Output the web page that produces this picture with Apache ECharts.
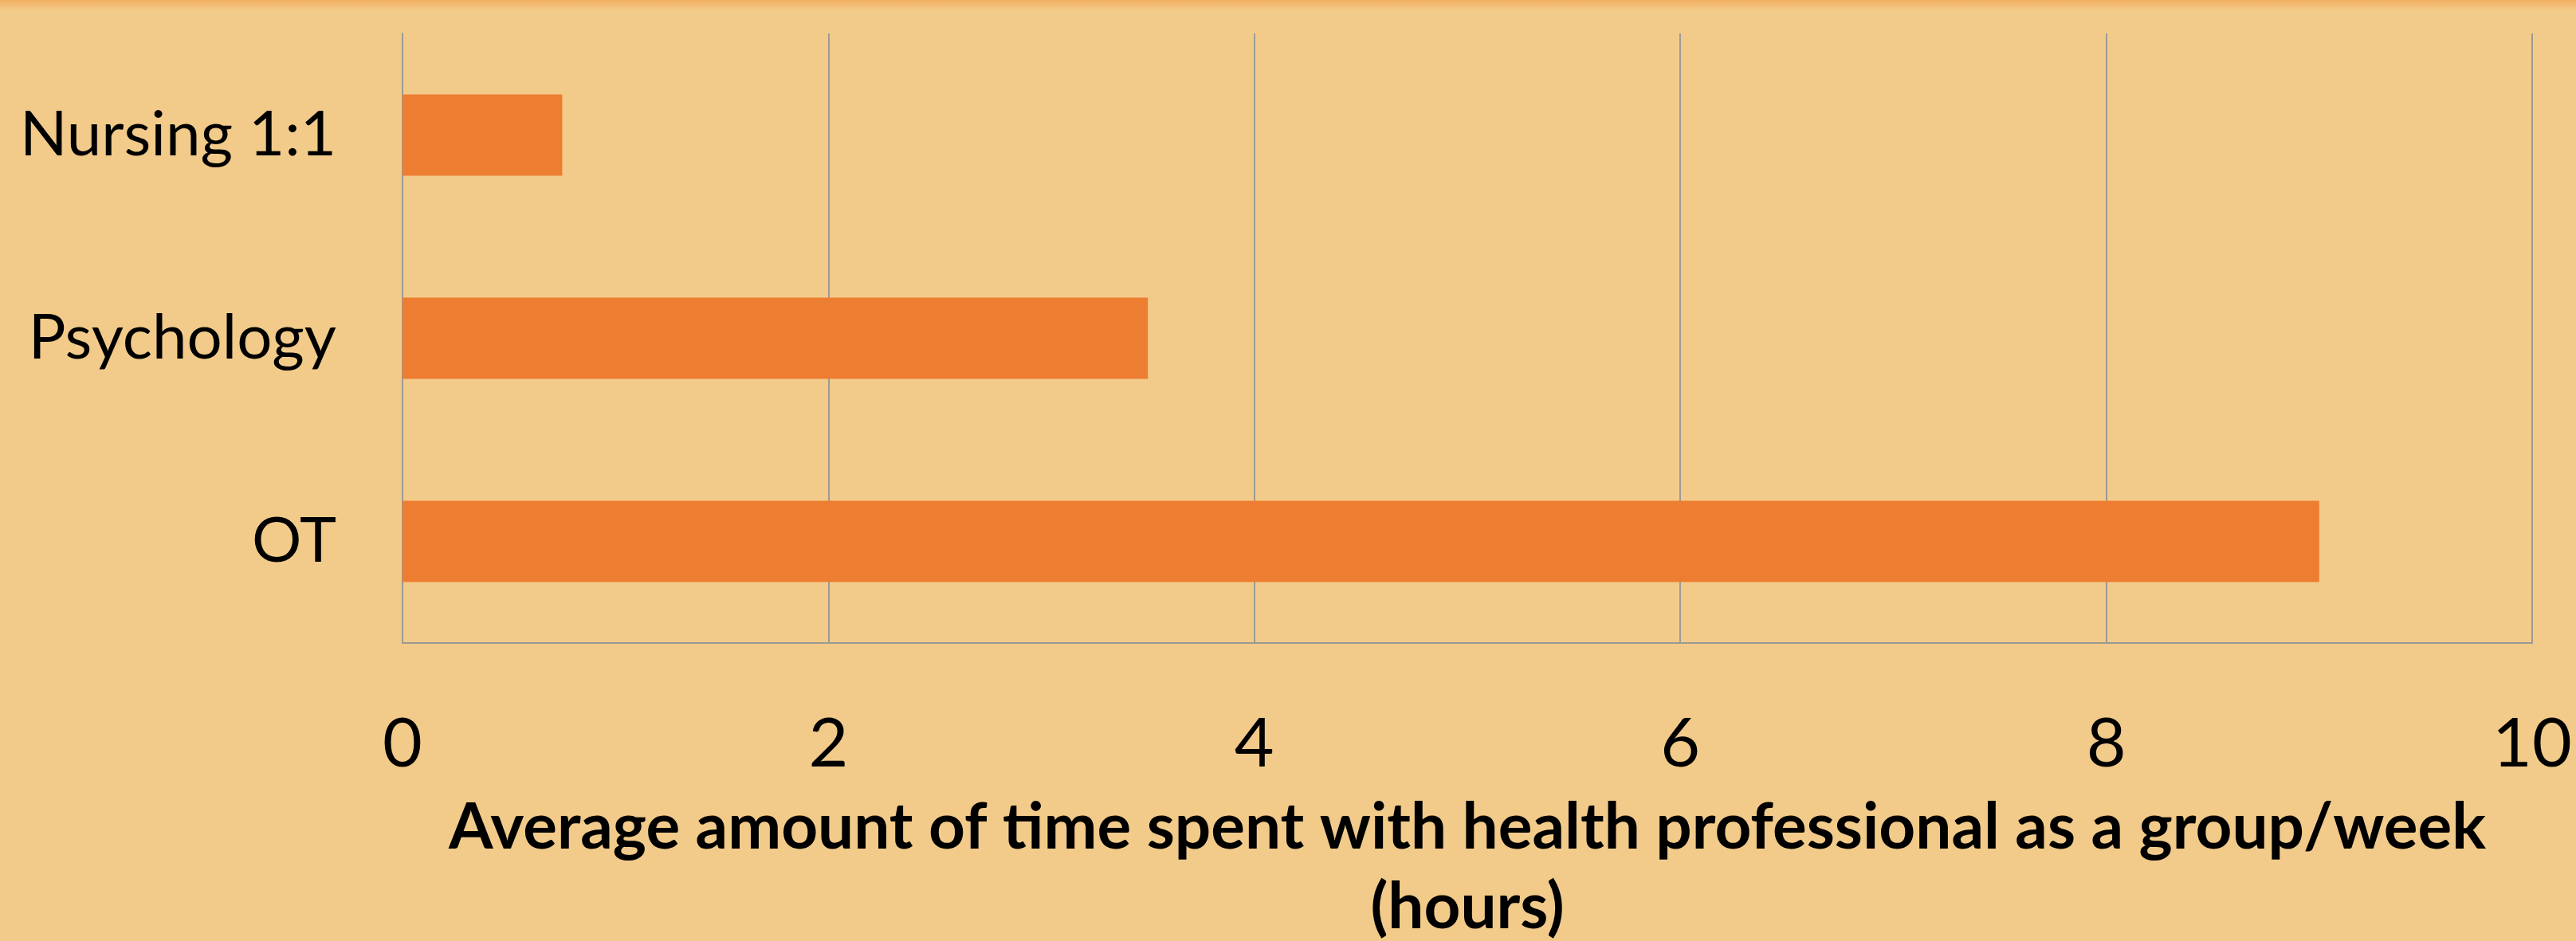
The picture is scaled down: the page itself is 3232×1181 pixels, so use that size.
<!DOCTYPE html>
<html>
<head>
<meta charset="utf-8">
<script src="https://cdn.jsdelivr.net/npm/echarts@6/dist/echarts.min.js"></script>
<style>
  html, body { margin: 0; padding: 0; background: #F2CB8A; }
  #chart { width: 3232px; height: 1181px; }
</style>
</head>
<body>
<div id="chart"></div>
<script>
// categories (top to bottom) and values in hours
const categories = ['Nursing 1:1', 'Psychology', 'OT'];
const hours = [0.75, 3.5, 9];
const axisTitle = 'Average amount of time spent with health professional as a group/week\n(hours)';

const chart = echarts.init(document.getElementById('chart'));

const option = {
  backgroundColor: '#F2CB8A',
  animation: false,
  graphic: [{
    type: 'rect',
    left: 0, top: 0,
    shape: { width: 3232, height: 16 },
    style: {
      fill: new echarts.graphic.LinearGradient(0, 0, 0, 1, [
        { offset: 0, color: '#F3B062' },
        { offset: 0.45, color: '#F2BE74' },
        { offset: 1, color: 'rgba(242,203,138,0)' }
      ])
    },
    silent: true
  }],
  grid: { left: 505, right: 55, top: 42, bottom: 374, outerBoundsMode: 'none', containLabel: false },
  xAxis: {
    type: 'value',
    min: 0,
    max: 10,
    interval: 2,
    axisLine: { show: true, lineStyle: { color: '#9C9A93', width: 2 } },
    axisTick: { show: false },
    axisLabel: {
      color: '#000',
      fontFamily: 'Lato',
      fontSize: 86,
      margin: 84
    },
    splitLine: { show: true, lineStyle: { color: '#9C9A93', width: 2 } },
    name: axisTitle,
    nameLocation: 'middle',
    nameGap: 182,
    nameTextStyle: {
      color: '#000',
      fontFamily: 'Lato',
      fontWeight: 'bold',
      fontSize: 80,
      lineHeight: 100,
      verticalAlign: 'top'
    }
  },
  yAxis: {
    type: 'category',
    data: categories,
    inverse: true,
    axisLine: { show: true, lineStyle: { color: '#9C9A93', width: 2 } },
    axisTick: { show: false },
    axisLabel: {
      color: '#000',
      fontFamily: 'Lato',
      fontSize: 78,
      margin: 83
    }
  },
  series: [{
    type: 'bar',
    data: hours,
    barCategoryGap: '60%',
    itemStyle: { color: '#ED7D31' }
  }]
};

chart.setOption(option);
</script>
</body>
</html>
